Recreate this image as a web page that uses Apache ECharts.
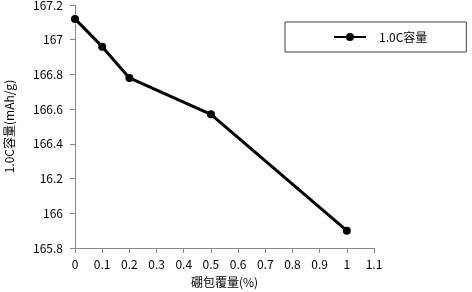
<!DOCTYPE html>
<html><head><meta charset="utf-8">
<script src="https://cdn.jsdelivr.net/npm/echarts@6/dist/echarts.min.js"></script>
<style>html,body{margin:0;padding:0;background:#fff}#c{width:472px;height:292px}</style>
</head><body><div id="c"></div>
<script>
const xValues = [0, 0.1, 0.2, 0.5, 1];
const capacity = [167.12, 166.96, 166.78, 166.57, 165.9];
const seriesName = '1.0C容量';
const yTickValues = [165.8, 166, 166.2, 166.4, 166.6, 166.8, 167, 167.2];
const yTickLabels = ['165.8', '166', '16.2', '166.4', '166.6', '166.8', '167', '167.2'];
const xTickLabels = ['0', '0.1', '0.2', '0.3', '0.4', '0.5', '0.6', '0.7', '0.8', '0.9', '1', '1.1'];
const xAxisName = '硼包覆量(%)';
const yAxisName = '1.0C容量(mAh/g)';

const font = '"Noto Sans CJK SC", "Noto Sans", sans-serif';
const chart = echarts.init(document.getElementById('c'));
chart.setOption({
  animation: false,
  textStyle: {fontFamily: font},
  grid: {left: 75, right: 98, top: 5, bottom: 44, containLabel: false, outerBoundsMode: 'none'},
  legend: {
    show: true,
    left: 285, top: 22,
    data: [{name: seriesName}],
    borderColor: '#404040', borderWidth: 1,
    padding: [9, 39, 9, 48],
    itemWidth: 32, itemHeight: 10, itemGap: 10,
    textStyle: {fontSize: 12, color: '#000', fontFamily: font, padding: [0, 0, 0, 8]}
  },
  xAxis: {
    type: 'value', min: 0, max: 1.1, interval: 0.1,
    name: xAxisName, nameLocation: 'middle', nameGap: 28,
    nameTextStyle: {fontSize: 12, color: '#000'},
    axisLine: {lineStyle: {color: '#868686'}},
    axisTick: {show: true, length: 5, lineStyle: {color: '#868686'}},
    splitLine: {show: false},
    axisLabel: {fontSize: 12, color: '#000', margin: 10,
      formatter: function (v) { const i = Math.round(v * 10); return xTickLabels[i] !== undefined ? xTickLabels[i] : ''; }}
  },
  yAxis: {
    type: 'value', min: 165.8, max: 167.2, interval: 0.2,
    name: yAxisName, nameLocation: 'middle', nameGap: 60, nameRotate: 90,
    nameTextStyle: {fontSize: 12, color: '#000'},
    axisLine: {show: true, lineStyle: {color: '#868686'}},
    axisTick: {show: true, length: 5, lineStyle: {color: '#868686'}},
    splitLine: {show: false},
    axisLabel: {fontSize: 12, color: '#000', margin: 12,
      formatter: function (v) {
        for (let i = 0; i < yTickValues.length; i++) if (Math.abs(yTickValues[i] - v) < 1e-6) return yTickLabels[i];
        return '';
      }}
  },
  series: [{
    name: seriesName, type: 'line',
    data: xValues.map((x, i) => [x, capacity[i]]),
    symbol: 'circle', symbolSize: 8,
    lineStyle: {color: '#000', width: 3},
    itemStyle: {color: '#000'}
  }]
});
</script></body></html>
